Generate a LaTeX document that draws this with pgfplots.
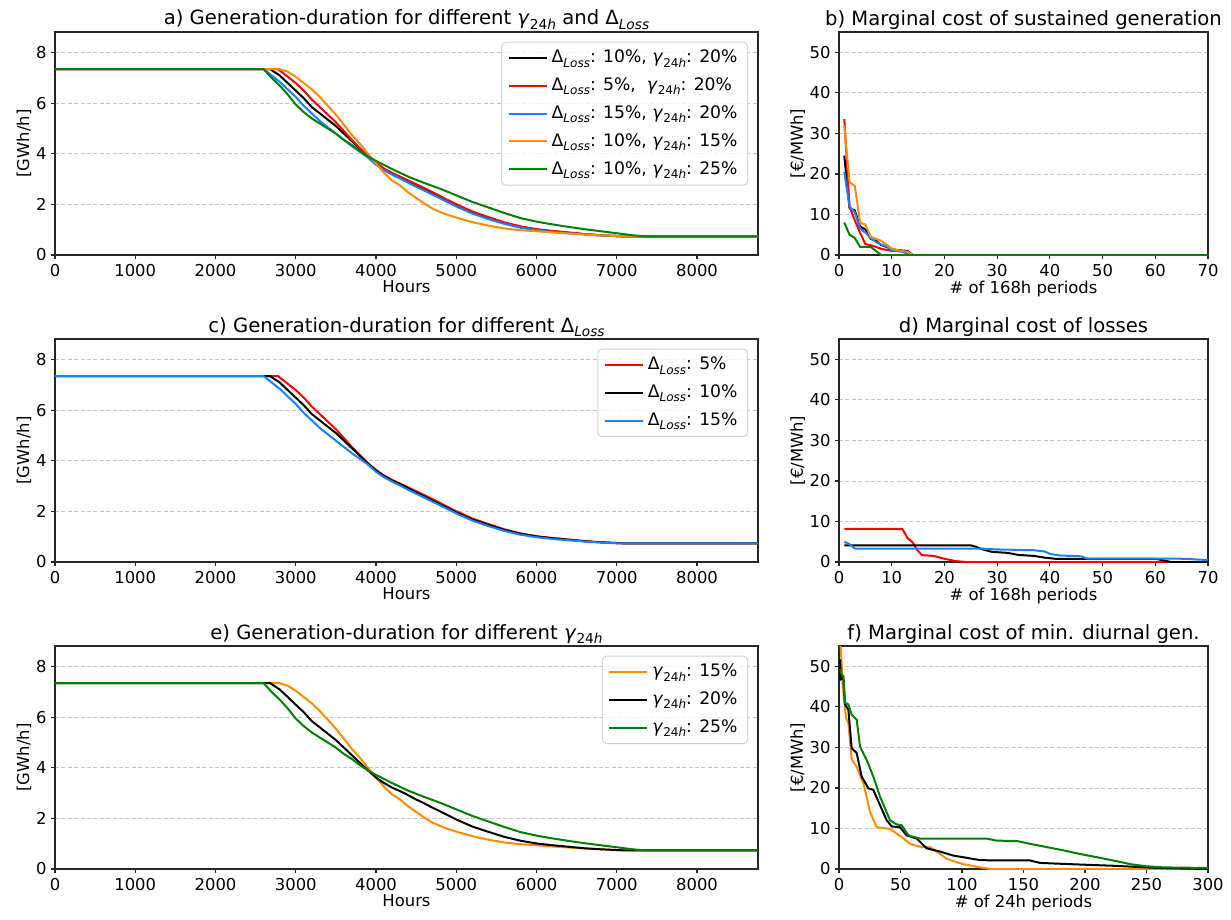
\documentclass[border=0pt]{standalone}
\usepackage{fontspec}
\setmainfont{DejaVu Sans}
\usepackage{graphicx}
\usepackage{pgfplots}
\usepackage{pgfplotstable}
\pgfplotsset{compat=1.18}
\definecolor{cblue}{RGB}{20,130,255}
\definecolor{corange}{RGB}{255,140,0}
\definecolor{cgreen}{RGB}{0,128,0}
\definecolor{cred}{RGB}{255,0,0}
\newcommand{\fs}{\fontsize{8.2}{9.8}\selectfont}
\newcommand{\fl}{\fontsize{8.6}{10.3}\selectfont}
\newcommand{\ft}{\fontsize{9.8}{11.8}\selectfont}
\newcommand{\sub}[1]{\raisebox{-0.45ex}{\scalebox{0.7}{#1}}}
\newcommand{\DL}{Δ\sub{\textit{Loss}}}
\newcommand{\GH}{\textit{γ}\sub{24\textit{h}}}

% generation-duration curves [GWh/h]
\pgfplotstableread{
x y
0 7.35
2680 7.35
2800 7.10
2900 6.80
3000 6.50
3100 6.20
3200 5.85
3300 5.60
3400 5.35
3500 5.10
3600 4.80
3700 4.50
3800 4.20
3900 3.90
4000 3.62
4100 3.40
4200 3.22
4300 3.08
4400 2.92
4500 2.75
4600 2.60
4700 2.43
4800 2.28
4900 2.12
5000 1.96
5200 1.68
5400 1.47
5600 1.27
5800 1.12
6000 1.01
6200 0.94
6400 0.88
6600 0.82
6800 0.78
7000 0.75
7100 0.735
8760 0.735
}\gblack
\pgfplotstableread{
x y
0 7.35
2780 7.35
2900 7.05
3000 6.80
3100 6.50
3200 6.15
3300 5.85
3400 5.55
3500 5.25
3600 4.90
3700 4.55
3800 4.22
3900 3.90
4000 3.64
4100 3.42
4200 3.25
4300 3.10
4400 2.95
4500 2.80
4600 2.65
4700 2.49
4800 2.33
4900 2.17
5000 2.01
5200 1.72
5400 1.50
5600 1.29
5800 1.13
6000 1.02
6200 0.95
6400 0.89
6600 0.83
6800 0.78
7000 0.75
7100 0.735
8760 0.735
}\gred
\pgfplotstableread{
x y
0 7.35
2600 7.35
2700 7.10
2800 6.85
2900 6.55
3000 6.25
3100 5.90
3200 5.60
3300 5.30
3400 5.05
3500 4.80
3600 4.55
3700 4.30
3800 4.08
3900 3.85
4000 3.57
4100 3.35
4200 3.18
4300 3.02
4400 2.86
4500 2.70
4600 2.55
4700 2.39
4800 2.24
4900 2.08
5000 1.92
5200 1.64
5400 1.42
5600 1.23
5800 1.08
6000 0.98
6200 0.91
6400 0.86
6600 0.81
6800 0.77
7000 0.74
7050 0.735
8760 0.735
}\gblue
\pgfplotstableread{
x y
0 7.35
2800 7.35
2900 7.25
3000 7.05
3100 6.80
3200 6.55
3300 6.25
3400 5.90
3500 5.55
3600 5.15
3700 4.75
3800 4.40
3900 4.00
4000 3.62
4100 3.25
4200 2.95
4300 2.75
4400 2.48
4500 2.26
4600 2.04
4700 1.84
4800 1.70
4900 1.58
5000 1.48
5200 1.30
5400 1.16
5600 1.05
5800 0.98
6000 0.94
6200 0.89
6400 0.85
6600 0.81
6800 0.78
7000 0.75
7200 0.735
8760 0.735
}\gorange
\pgfplotstableread{
x y
0 7.35
2600 7.35
2700 7.00
2800 6.70
2900 6.35
3000 5.95
3100 5.65
3200 5.40
3300 5.20
3400 5.00
3500 4.80
3600 4.55
3700 4.35
3800 4.10
3900 3.90
4000 3.72
4200 3.40
4400 3.10
4600 2.85
4800 2.62
5000 2.36
5200 2.10
5400 1.88
5600 1.66
5800 1.46
6000 1.32
6200 1.21
6400 1.11
6600 1.02
6800 0.94
7000 0.86
7200 0.78
7350 0.735
8760 0.735
}\ggreen

% b) marginal cost of sustained generation
\pgfplotstableread{
x y
1 24.5
2 11.5
3 11
4 7
5 6.3
6 4
7 3.5
8 2.5
9 2
10 1.5
11 1.2
12 1.1
13 1.0
14 0
70 0
}\bblack
\pgfplotstableread{
x y
1 33.5
2 12
3 8.5
4 5.5
5 2.7
6 2.4
7 2
8 1.5
9 1.3
10 1.0
11 1
12 0.9
13 0.5
14 0
70 0
}\bred
\pgfplotstableread{
x y
1 20.5
2 12
3 10.5
4 6.5
5 5.5
6 4.2
7 3.2
8 2.6
9 2.1
10 1.2
11 1
12 0.8
13 0.3
14 0
70 0
}\bblue
\pgfplotstableread{
x y
1 32
2 18
3 17
4 8
5 7.5
6 4.5
7 4
8 3.5
9 2.6
10 1.6
11 1.2
12 1.0
13 0.8
14 0
70 0
}\borange
\pgfplotstableread{
x y
1 8
2 5
3 4.2
4 2
5 2
6 2
7 1
8 0
70 0
}\bgreen

% d) marginal cost of losses
\pgfplotstableread{
x y
1 8.2
12 8.2
13 5.9
14 4.8
14.7 3.2
15.7 1.7
18 1.5
20 0.8
22 0.25
24 0
70 0
}\dred
\pgfplotstableread{
x y
1 4.1
25 4.1
26 3.75
27 3.2
29 2.5
32 2.25
34 1.75
37 1.5
39 1.08
41 0.8
60 0.8
63 0
70 0
}\dblack
\pgfplotstableread{
x y
1 5.0
2 4.4
3 3.3
27 3.3
30 3.1
37 2.9
39 2.6
40 2.0
42 1.6
46 1.4
47 0.85
66 0.8
68 0.6
70 0.5
}\dblue

% f) marginal cost of min. diurnal generation
\pgfplotstableread{
x y
1 57
3 45.5
4.9 39.3
6 37
7.6 36
10.3 27
14.4 25.2
19.8 21.1
22.5 17.8
25.2 14.1
30.6 10.3
41.5 9.9
46.9 8.7
51 7.9
57.8 6.2
65.9 5.5
74 5.4
82.2 3.7
87.6 2.5
101 1.2
114.7 0.4
123 0
300 0
}\forange
\pgfplotstableread{
x y
1 51.7
1.4 46.8
3.5 47.2
4.9 40.6
7.6 39.3
10.3 29.8
14.4 28.6
18.4 22.8
23.9 19.9
27.9 19.5
33.4 15.7
38.8 12
42.9 10.5
49.6 10.3
55 8.3
63.2 7.5
71.3 5.1
82.2 4.3
93 3.3
101 2.9
114.7 2.2
128 2.1
155.4 2.1
163.5 1.5
196 1.1
223 0.8
250 0.4
264 0.2
300 0
}\fblack
\pgfplotstableread{
x y
1 49.3
2.2 48
3.5 47.6
4.9 41
7.6 40.6
10.3 38.1
14.4 36.8
17.1 30.2
22.5 26.9
27.9 22.8
33.4 17.8
41.5 12
46.9 11
51 10.8
56.4 8.3
65.9 7.5
87.6 7.5
120 7.5
128 7.0
144.6 6.9
155.4 6.2
169 5.4
182.5 4.6
196 3.7
209.7 2.9
223 2.1
236.8 1.2
250 0.66
264 0.4
300 0.25
}\fgreen

\pgfplotsset{
 legend image code/.code={\draw[#1] plot coordinates {(0pt,0pt) (9.5pt,0pt) (19pt,0pt)};},
 base/.style={
  scale only axis, anchor=south west,
  font=\fs,
  /pgf/number format/assume math mode=true,
  /pgf/number format/1000 sep={},
  scaled ticks=false,
  axis line style={black!85, line width=0.6pt},
  tick style={black!85, line width=0.6pt},
  major tick length=1.8pt,
  tick align=outside, xtick pos=bottom, ytick pos=left,
  ymajorgrids,
  grid style={dash pattern=on 2pt off 1.2pt, gray!45, line width=0.4pt},
  xticklabel style={inner ysep=2.5pt, font=\fs},
  yticklabel style={inner xsep=2.2pt, font=\fs},
  every axis title/.style={font=\ft, at={(0.5,1)}, anchor=base, yshift=3.5pt},
  xlabel style={inner sep=0pt, yshift=0.5pt},
  ylabel style={inner sep=0pt},
  every axis plot/.append style={line width=1pt, no marks},
  legend style={at={(1,1)}, anchor=north east, xshift=-5pt, yshift=-4.85pt,
    draw=gray!35, line width=0.5pt, fill=white, fill opacity=0.8, text opacity=1,
    rounded corners=2pt, font=\fl, cells={anchor=west}, row sep=2pt,
    inner ysep=2pt},
 },
 gen/.style={base, width=351.5pt, height=111.5pt, xmin=0, xmax=8760, ymin=0, ymax=8.82,
   xtick={0,1000,...,8000}, ytick={0,2,...,8}, xlabel={Hours}, ylabel={[GWh/h]}},
 cost/.style={base, width=184.5pt, height=111.5pt, xmin=0, ymin=0, ymax=55,
   ytick={0,10,...,50}, ylabel={[€/MWh]}},
}

\begin{document}
\begin{tikzpicture}
\path[use as bounding box] (0,0) rectangle (615.5pt,-460pt);

% a
\begin{axis}[gen, at={(27.5pt,-127.5pt)},
  title={a) Generation-duration for different \GH{} and \DL}]
\addplot[black] table {\gblack};
\addlegendentry{\DL: 10\%, \GH: 20\%}
\addplot[cred] table {\gred};
\addlegendentry{\DL: 5\%,\ \ \GH: 20\%}
\addplot[cblue] table {\gblue};
\addlegendentry{\DL: 15\%, \GH: 20\%}
\addplot[corange] table {\gorange};
\addlegendentry{\DL: 10\%, \GH: 15\%}
\addplot[cgreen] table {\ggreen};
\addlegendentry{\DL: 10\%, \GH: 25\%}
\end{axis}

% b
\begin{axis}[cost, at={(419.5pt,-127.5pt)}, xmax=70, xtick={0,10,...,70},
  xlabel={\# of 168h periods}, title={b) Marginal cost of sustained generation}]
\addplot[black] table {\bblack};
\addplot[cred] table {\bred};
\addplot[cblue] table {\bblue};
\addplot[corange] table {\borange};
\addplot[cgreen] table {\bgreen};
\end{axis}

% c
\begin{axis}[gen, at={(27.5pt,-281pt)},
  title={c) Generation-duration for different \DL}]
\addplot[cred] table {\gred};
\addlegendentry{\DL: 5\%}
\addplot[black] table {\gblack};
\addlegendentry{\DL: 10\%}
\addplot[cblue] table {\gblue};
\addlegendentry{\DL: 15\%}
\end{axis}

% d
\begin{axis}[cost, at={(419.5pt,-281pt)}, xmax=70, xtick={0,10,...,70},
  xlabel={\# of 168h periods}, title={d) Marginal cost of losses}]
\addplot[cred] table {\dred};
\addplot[black] table {\dblack};
\addplot[cblue] table {\dblue};
\end{axis}

% e
\begin{axis}[gen, at={(27.5pt,-434.5pt)},
  title={e) Generation-duration for different \GH}]
\addplot[corange] table {\gorange};
\addlegendentry{\GH: 15\%}
\addplot[black] table {\gblack};
\addlegendentry{\GH: 20\%}
\addplot[cgreen] table {\ggreen};
\addlegendentry{\GH: 25\%}
\end{axis}

% f
\begin{axis}[cost, at={(419.5pt,-434.5pt)}, xmax=300, xtick={0,50,...,300},
  xlabel={\# of 24h periods}, title={f) Marginal cost of min. diurnal gen.}]
\addplot[corange] table {\forange};
\addplot[black] table {\fblack};
\addplot[cgreen] table {\fgreen};
\end{axis}
\end{tikzpicture}
\end{document}
